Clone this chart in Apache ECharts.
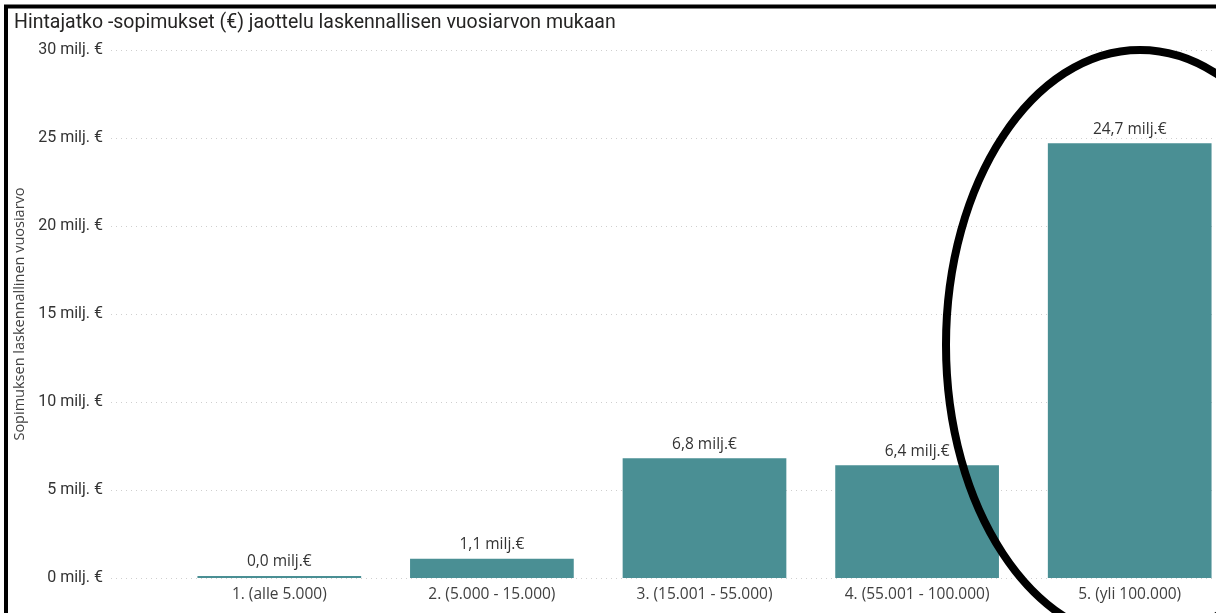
<!DOCTYPE html>
<html>
<head>
<meta charset="utf-8">
<script src="https://cdn.jsdelivr.net/npm/echarts@6/dist/echarts.min.js"></script>
<style>
  html, body { margin: 0; padding: 0; background: #fff; }
  #main { width: 1216px; height: 613px; }
</style>
</head>
<body>
<div id="main"></div>
<script>
const categories = [
  "1. (alle 5.000)",
  "2. (5.000 - 15.000)",
  "3. (15.001 - 55.000)",
  "4. (55.001 - 100.000)",
  "5. (yli 100.000)"
];
const values = [0.03, 1.1, 6.8, 6.4, 24.7]; // milj. €
const yTicks = [0, 5, 10, 15, 20, 25, 30];

const chart = echarts.init(document.getElementById("main"));

const fmtLabel = (v) => v.toFixed(1).replace(".", ",") + " milj.€";

const option = {
  animation: false,
  title: {
    text: "Hintajatko -sopimukset (€) jaottelu laskennallisen vuosiarvon mukaan",
    left: 9,
    top: 8,
    textStyle: { fontFamily: "Roboto", fontSize: 19.5, fontWeight: "normal", color: "#252423" }
  },
  grid: [
    // grid 0: y axis labels + dotted gridlines
    { left: 111, right: 4, top: 50, bottom: 35, outerBoundsMode: "none" },
    // grid 1: the bars (plot area continues past the right edge)
    { left: 173, right: -20, top: 50, bottom: 35, outerBoundsMode: "none" }
  ],
  xAxis: [
    { gridIndex: 0, type: "value", show: false, min: 0, max: 1 },
    {
      gridIndex: 1,
      type: "category",
      data: categories,
      axisLine: { show: false },
      axisTick: { show: false },
      axisLabel: {
        interval: 0,
        margin: 9,
        fontFamily: "Open Sans",
        fontSize: 15.5,
        color: "#404040"
      }
    }
  ],
  yAxis: [
    {
      gridIndex: 0,
      type: "value",
      min: 0,
      max: 30,
      interval: 5,
      name: "Sopimuksen laskennallinen vuosiarvo",
      nameLocation: "middle",
      nameGap: 81,
      nameTextStyle: { fontFamily: "Open Sans", fontSize: 14.5, color: "#404040" },
      axisLine: { show: false },
      axisTick: { show: false },
      axisLabel: {
        margin: 8,
        fontFamily: "Roboto",
        fontSize: 16,
        color: "#333",
        formatter: (v) => (yTicks.includes(v) ? v + " milj. €" : "")
      },
      splitLine: { show: true, lineStyle: { color: "#cfcfcf", type: [1, 4], width: 1 } }
    },
    { gridIndex: 1, type: "value", min: 0, max: 30, show: false, splitLine: { show: false } }
  ],
  series: [
    {
      type: "bar",
      xAxisIndex: 1,
      yAxisIndex: 1,
      data: values,
      barWidth: "77%",
      barMinHeight: 2,
      itemStyle: { color: "#4A8F94" },
      label: {
        show: true,
        position: "top",
        distance: 6,
        fontFamily: "Open Sans",
        fontSize: 15.5,
        color: "#333",
        formatter: (p) => fmtLabel(p.value)
      }
    }
  ],
  graphic: [
    {
      type: "polyline",
      z: 100,
      shape: { points: [[6, 613], [6, 6.5], [1216, 6.5]] },
      style: { stroke: "#000", lineWidth: 4, fill: null }
    },
    {
      type: "ellipse",
      z: 100,
      shape: { cx: 1140, cy: 345, rx: 194, ry: 295 },
      style: { stroke: "#000", lineWidth: 8, fill: null }
    }
  ]
};

chart.setOption(option);
</script>
</body>
</html>
